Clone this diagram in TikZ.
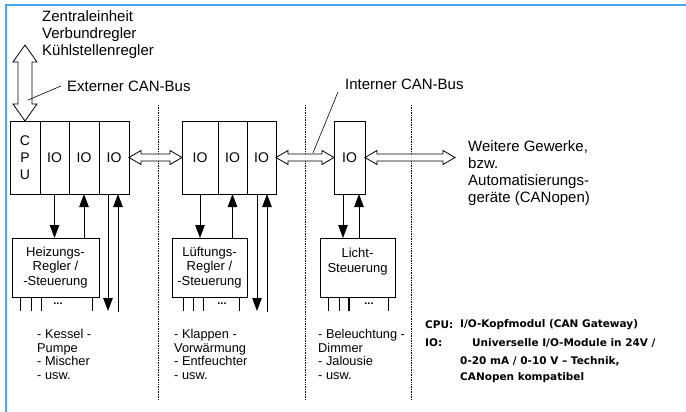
\documentclass[tikz,border=0pt]{standalone}
\usepackage{fontspec}
\setmainfont{Liberation Sans}
\newfontfamily\legfont{DejaVu Sans}
\usepackage{tikz}
\usetikzlibrary{arrows.meta,positioning,calc}
\definecolor{frameblue}{HTML}{4AA6EE}

\newcommand{\hbus}[2]{%
  \draw[busline] let \p1=(#1), \p2=(#2) in
    (\x1,\y1) -- (\x1+12pt,\y1+7pt) -- (\x1+12pt,\y1+3.5pt) -- (\x2-12pt,\y2+3.5pt)
    -- (\x2-12pt,\y2+7pt) -- (\x2,\y2) -- (\x2-12pt,\y2-7pt) -- (\x2-12pt,\y2-3.5pt)
    -- (\x1+12pt,\y1-3.5pt) -- (\x1+12pt,\y1-7pt) -- cycle;}
\newcommand{\vbus}[2]{%
  \draw[busline] let \p1=(#1), \p2=(#2) in
    (\x1,\y1) -- (\x1+12pt,\y1-17pt) -- (\x1+7pt,\y1-17pt) -- (\x2+7pt,\y2+17pt)
    -- (\x2+12pt,\y2+17pt) -- (\x2,\y2) -- (\x2-12pt,\y2+17pt) -- (\x2-7pt,\y2+17pt)
    -- (\x1-7pt,\y1-17pt) -- (\x1-12pt,\y1-17pt) -- cycle;}

\begin{document}
\begin{tikzpicture}[
  x=1pt,y=-1pt,
  modul/.style={draw,line width=0.8pt,minimum height=73pt,inner sep=0pt,outer sep=0pt,
                align=center,font=\fontsize{14}{17}\selectfont},
  regler/.style={draw,line width=0.8pt,minimum height=59pt,inner sep=0pt,outer sep=0pt,
                 align=center,font=\fontsize{13}{14.5}\selectfont},
  txt/.style={anchor=north west,inner sep=0pt,align=left,font=\fontsize{15}{17}\selectfont},
  liste/.style={anchor=north west,inner sep=0pt,align=left,font=\fontsize{12.8}{13.7}\selectfont},
  legend/.style={anchor=west,inner sep=0pt,font=\legfont\bfseries\fontsize{10.5}{12}\selectfont},
  dots/.style={inner sep=0pt,font=\bfseries\fontsize{11}{11}\selectfont},
  sig/.style={line width=0.8pt,-{Triangle[length=13pt,width=9.5pt]}},
  busline/.style={line width=0.8pt,fill=white},
  pin/.style={line width=0.8pt},
  lead/.style={line width=0.6pt},
  trenn/.style={densely dotted,line width=0.7pt}
]
\useasboundingbox (0,0) rectangle (686,412);
\draw[frameblue,line width=1.6pt] (6,412) -- (6,5) -- (686,5);

\foreach \x in {158,305,411}{\draw[trenn] (\x,105) -- (\x,400);}

\node[modul,minimum width=30pt] (cpu) at (25,157.5) {C\\P\\U};
\node[modul,right=0pt of cpu,minimum width=29pt] (io1) {IO};
\node[modul,right=0pt of io1,minimum width=30pt] (io2) {IO};
\node[modul,right=0pt of io2,minimum width=30pt] (io3) {IO};

\node[modul,minimum width=36pt] (io4) at (200,157.5) {IO};
\node[modul,right=0pt of io4,minimum width=29pt] (io5) {IO};
\node[modul,right=0pt of io5,minimum width=29pt] (io6) {IO};

\node[modul,minimum width=31pt] (io7) at (349.5,157.5) {IO};

\node[regler,minimum width=87pt] (heiz) at (55.5,267.5) {Heizungs-\\Regler /\\-Steuerung};
\node[regler,minimum width=75pt] (lueft) at (209.5,267.5) {Lüftungs-\\Regler /\\-Steuerung};
\node[regler,minimum width=75pt] (licht) at (357.5,267.5) {Licht-\\Steuerung\\\mbox{}};

\node[txt] (zentral) at (42,10) {Zentraleinheit\\Verbundregler\\Kühlstellenregler};
\node[txt,anchor=west] (extlbl) at (67,86) {Externer CAN-Bus};
\node[txt,anchor=west] (intlbl) at (345,84) {Interner CAN-Bus};
\node[txt] (weitere) at (468,140) {Weitere Gewerke,\\bzw.\\Automatisierungs-\\geräte (CANopen)};

\coordinate (ctop) at (25,45);
\coordinate (extpt) at (28,100);
\coordinate (intpt) at (313,153);
\coordinate (busend) at (455,157.5);

\vbus{ctop}{cpu.north}
\hbus{io3.east}{io4.west}
\hbus{io6.east}{io7.west}
\hbus{io7.east}{busend}
\draw[lead] ([xshift=-6pt]extlbl.west) -- (extpt);
\draw[lead] ([xshift=-7pt,yshift=-8pt]intlbl.west) -- (intpt);

\draw[sig] (io1.south) -- (io1.south |- heiz.north);
\draw[sig] (io2.south |- heiz.north) -- (io2.south);
\coordinate (hout) at (108,311);
\coordinate (hin) at (118,312);
\draw[sig] (hout |- io3.south) -- (hout);
\draw[sig] (hin) -- (hin |- io3.south);

\draw[sig] (io4.south) -- (io4.south |- lueft.north);
\draw[sig] (io5.south |- lueft.north) -- (io5.south);
\coordinate (lout) at (257,311);
\coordinate (lin) at (267,312);
\draw[sig] (lout |- io6.south) -- (lout);
\draw[sig] (lin) -- (lin |- io6.south);

\draw[sig] ([xshift=-6.5pt]io7.south) -- ([xshift=-6.5pt]io7.south |- licht.north);
\draw[sig] ([xshift=9.5pt]io7.south |- licht.north) -- ([xshift=9.5pt]io7.south);

\foreach \dx in {8,19,29,80}{\draw[pin] (heiz.south west) ++(\dx,0) -- ++(0,14);}
\foreach \dx in {11,21,31,67}{\draw[pin] (lueft.south west) ++(\dx,0) -- ++(0,14);}
\foreach \dx/\w in {8/0.8,19/0.8,29/1.5,68/0.8}{\draw[line width=\w pt] (licht.south west) ++(\dx,0) -- ++(0,14);}
\node[dots] (dots1) at (58,304) {...};
\node[dots] (dots2) at (222,304) {...};
\node[dots] (dots3) at (369,304) {...};

\node[liste] (kessel) at (37,329) {- Kessel -\\Pumpe\\- Mischer\\- usw.};
\node[liste] (klappen) at (174,329) {- Klappen -\\Vorwärmung\\- Entfeuchter\\- usw.};
\node[liste] (beleucht) at (318,329) {- Beleuchtung -\\Dimmer\\- Jalousie\\- usw.};

\node[legend] (cpukey) at (425,325) {CPU:};
\node[legend] (cpudef) at (460,325) {I/O-Kopfmodul (CAN Gateway)};
\node[legend] (iokey) at (425,343) {IO:};
\node[legend] (iodef) at (472,343) {Universelle I/O-Module in 24V /};
\node[legend] (iodefb) at (460,361) {0-20 mA / 0-10 V – Technik,};
\node[legend] (iodefc) at (460,378) {CANopen kompatibel};
\end{tikzpicture}
\end{document}
